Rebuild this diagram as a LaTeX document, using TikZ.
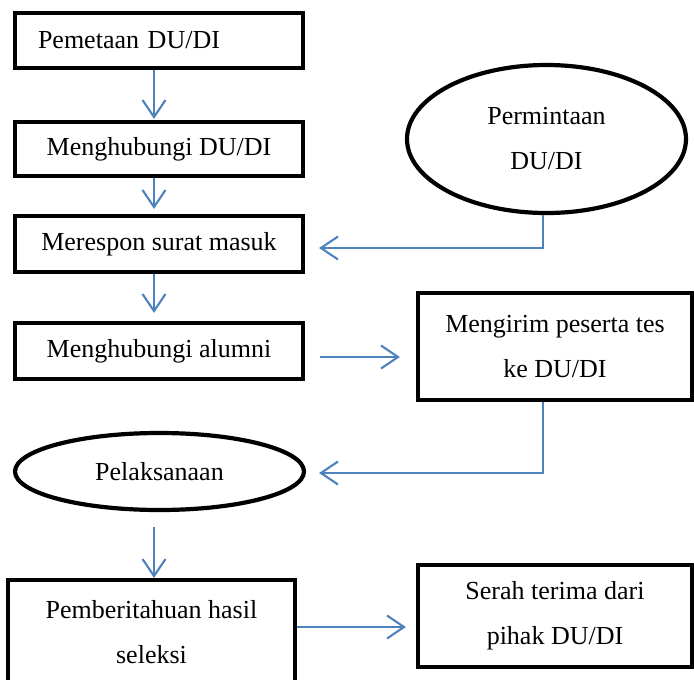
\documentclass[tikz,border=0pt]{standalone}
\usepackage{fontspec}
\setmainfont{Liberation Serif}
\usepackage{tikz}
\usetikzlibrary{arrows.meta,positioning,shapes.geometric,calc}
\definecolor{lineblue}{RGB}{79,129,189}
\tikzstyle{flowbox} = [draw,line width=4.2pt,rectangle,text centered,align=center,inner sep=0pt]
\tikzstyle{flowoval} = [draw,line width=4.2pt,ellipse,text centered,align=center,inner sep=0pt]
\tikzstyle{flowarrow} = [lineblue,line width=2.1pt,-{Straight Barb[length=17pt,width=23pt]}]

\begin{document}
\begin{tikzpicture}[x=1pt,y=-1pt,font=\fontsize{26}{45}\selectfont]

			\useasboundingbox (0,0) rectangle (694,680);

			\node[flowbox,align=left,
			text width=242pt, inner xsep=23pt,
			minimum height=55pt,
			] (pemetaan) at (159,40.5) {Pemetaan DU/DI};

			\node[flowbox,
			minimum width=288pt,
			minimum height=54pt,
			] (hubungi) at (159,149) {Menghubungi DU/DI};

			\node[flowbox,
			minimum width=288pt,
			minimum height=56pt,
			] (respon) at (159,244) {Merespon surat masuk};

			\node[flowbox,
			minimum width=288pt,
			minimum height=56pt,
			] (alumni) at (159,351) {Menghubungi alumni};

			\node[flowoval,
			minimum width=279pt,
			minimum height=148pt,
			] (permintaan) at (546.5,139) {Permintaan\\DU/DI};

			\node[flowbox,
			minimum width=274pt,
			minimum height=107pt,
			] (kirim) at (555,346.5) {Mengirim peserta tes\\ke DU/DI};

			\node[flowoval,
			minimum width=289pt,
			minimum height=77pt,
			] (pelaksanaan) at (159.5,471.5) {Pelaksanaan};

			\node[flowbox,
			minimum width=287pt,
			minimum height=104pt,
			] (hasil) at (151.5,632) {Pemberitahuan hasil\\seleksi};

			\node[flowbox,
			minimum width=274pt,
			minimum height=102pt,
			] (serah) at (555,616) {Serah terima dari\\pihak DU/DI};

			% Arrows
			\draw[flowarrow,shorten >=1pt] ([xshift=-5pt]pemetaan.south) -- ([xshift=-5pt]hubungi.north);
			\draw[flowarrow,shorten >=5pt] ([xshift=-5pt]hubungi.south) -- ([xshift=-5pt]respon.north);
			\draw[flowarrow,shorten >=8pt] ([xshift=-5pt]respon.south) -- ([xshift=-5pt]alumni.north);
			\draw[flowarrow,shorten <=15pt,shorten >=16pt] ([yshift=-6pt]alumni.east) -- ([yshift=-6pt]alumni.east -| kirim.west);
			\draw[flowarrow,shorten >=14pt] ([xshift=-3.5pt]permintaan.south) |- ([yshift=-4pt]respon.east);
			\draw[flowarrow,shorten >=13pt] ([xshift=-12pt]kirim.south) |- ([yshift=-1.5pt]pelaksanaan.east);
			\draw[flowarrow,shorten <=15pt] ([xshift=-5.5pt]pelaksanaan.south) -- ([xshift=-5.5pt]pelaksanaan.south |- hasil.north);
			\draw[flowarrow,shorten >=10pt] ([yshift=5pt]hasil.east) -- ([yshift=5pt]hasil.east -| serah.west);
		\end{tikzpicture}
\end{document}
